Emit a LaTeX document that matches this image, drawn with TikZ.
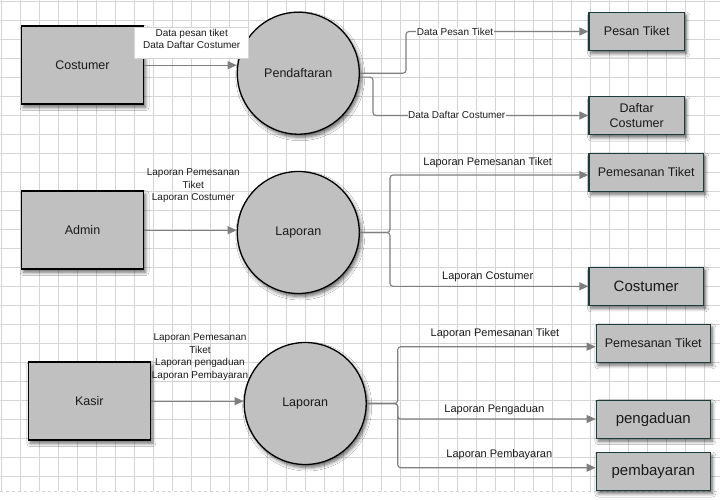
\documentclass[tikz,border=0pt]{standalone}
\usepackage{fontspec}
\setmainfont{Liberation Sans}
\usetikzlibrary{arrows.meta,shadows,shadows.blur,calc}
\definecolor{boxfill}{HTML}{C0C0C0}
\definecolor{tealborder}{HTML}{1E3B3B}
\definecolor{gridc}{HTML}{D4D4D4}
\definecolor{arrc}{HTML}{7F7F7F}
\definecolor{txtc}{HTML}{1A1A1A}
\tikzset{
  gridline/.style={draw=gridc, line width=0.9pt},
  sh/.style={blur shadow={shadow xshift=2pt, shadow yshift=-3pt, shadow blur steps=6, shadow blur radius=3.5pt, shadow opacity=60}},
  entity/.style={rectangle, draw=black, line width=1.6pt, fill=boxfill, sh, minimum width=122pt, minimum height=78pt, inner sep=0pt, text=txtc, font=\fontsize{12.5}{15}\selectfont},
  proc/.style={circle, draw=black, line width=1.3pt, fill=boxfill, sh, minimum size=122pt, inner sep=0pt, text=txtc, font=\fontsize{12.5}{15}\selectfont},
  store/.style={rectangle, draw=tealborder, line width=1.4pt, fill=boxfill, sh, minimum height=38pt, inner sep=0pt, text=txtc, align=center, font=\fontsize{12.5}{15}\selectfont},
  arr/.style={draw=arrc, line width=1.1pt, rounded corners=3pt, -{Triangle[length=9pt,width=8pt]}, arrc},
  flowlbl/.style={text=txtc, inner sep=0.5pt, align=center, font=\fontsize{10}{12.4}\selectfont},
  flowlblb/.style={text=txtc, inner sep=0.5pt, align=center, font=\fontsize{11}{13}\selectfont},
}
\begin{document}
\begin{tikzpicture}[x=1pt,y=-1pt]
\useasboundingbox (0,0) rectangle (720,499);
\fill[white] (0,0) rectangle (720,499);
% grid
\foreach \i in {0,...,37} \draw[gridline] ({1.3+19*\i},0) -- ({1.3+19*\i},491);
\foreach \j in {0,...,25} \draw[gridline] (0,{1.3+19*\j}) -- (720,{1.3+19*\j});
\draw[gridc, dashed, line width=0.8pt] (0,491) -- (720,491);

% ---------- row 1 ----------
\node[entity] (cost) at (82.5,65.2) {Costumer};
\node[proc] (pend) at (298.3,73.2) {Pendaftaran};
\node[store, minimum width=95.3pt] (pesan) at (636.7,31.5) {Pesan Tiket};
\node[store, minimum width=95.3pt, font=\fontsize{12.5}{14.5}\selectfont] (daftar) at (636.7,115.5) {Daftar\\Costumer};

\node[draw=gridc, line width=0.8pt, fill=white, minimum width=114pt, minimum height=31.3pt, inner sep=0pt] (lblbox1) at (191.7,42.6) {};
\node[flowlbl] (lbl1) at (191.7,38.9) {Data pesan tiket\\Data Daftar Costumer};
\draw[arr] (cost.east) -- (cost.east -| pend.west);

\coordinate (p1a) at (406,73.2);
\coordinate (p1b) at (373,77);
\draw[arr] (pend.east) -- (p1a) -- (p1a |- pesan.west) -- (pesan.west);
\draw[arr] ($(pend.east)+(0,4)$) -- (p1b) -- (p1b |- daftar.west) -- (daftar.west);
\node[flowlbl, fill=white] (l1a) at (455,32) {Data Pesan Tiket};
\node[flowlbl, fill=white] (l1b) at (456.7,115) {Data Daftar Costumer};

% ---------- row 2 ----------
\node[entity] (admin) at (82.5,230.2) {Admin};
\node[proc] (lap1) at (298.3,232.5) {Laporan};
\node[store, minimum width=114.3pt] (pem1) at (646.2,172.3) {Pemesanan Tiket};
\node[store, minimum width=114.3pt, font=\fontsize{15}{18}\selectfont] (cos2) at (646.2,286.3) {Costumer};
\node[flowlbl] (lbl2) at (193.3,185.9) {Laporan Pemesanan\\Tiket\\Laporan Costumer};
\draw[arr] (admin.east) -- (admin.east -| lap1.west);

\coordinate (p2) at (390,232.5);
\draw[arr] (lap1.east) -- (p2) -- (p2 |- 0,175) -- (pem1.west |- 0,175);
\draw[arr] (lap1.east) -- (p2) -- (p2 |- cos2.west) -- (cos2.west);
\node[flowlblb] (l2a) at (487.7,162.3) {Laporan Pemesanan Tiket};
\node[flowlblb] (l2b) at (487.7,276.7) {Laporan Costumer};

% ---------- row 3 ----------
\node[entity] (kasir) at (89.3,401.2) {Kasir};
\node[proc] (lap2) at (305.2,403.5) {Laporan};
\node[store, minimum width=114pt] (pem2) at (653.3,343.3) {Pemesanan Tiket};
\node[store, minimum width=114pt, font=\fontsize{15}{18}\selectfont] (peng) at (653.3,419.2) {pengaduan};
\node[store, minimum width=114pt, font=\fontsize{15}{18}\selectfont] (pemb) at (653.3,471.5) {pembayaran};
\node[flowlbl] (lbl3) at (200,357) {Laporan Pemesanan\\Tiket\\Laporan pengaduan\\Laporan Pembayaran};
\draw[arr] (kasir.east) -- (kasir.east -| lap2.west);

\coordinate (p3) at (397.7,403.5);
\draw[arr] (lap2.east) -- (p3) -- (p3 |- 0,346.7) -- (pem2.west |- 0,346.7);
\draw[arr] (lap2.east) -- (p3) -- (p3 |- 0,419) -- (peng.west |- 0,419);
\draw[arr] (lap2.east) -- (p3) -- (p3 |- 0,467.7) -- (pemb.west |- 0,467.7);
\node[flowlblb] (l3a) at (495,333.3) {Laporan Pemesanan Tiket};
\node[flowlblb] (l3b) at (494.3,409.3) {Laporan Pengaduan};
\node[flowlblb] (l3c) at (499.3,455) {Laporan Pembayaran};
\end{tikzpicture}
\end{document}
